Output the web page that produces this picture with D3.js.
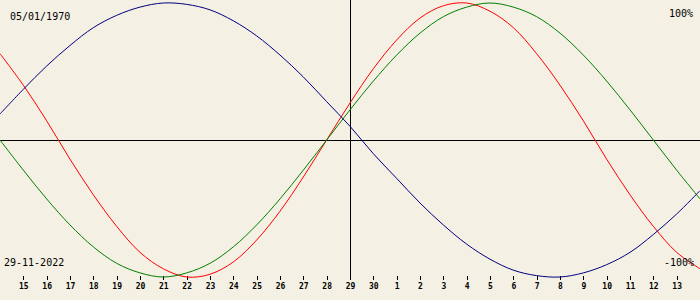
<!DOCTYPE html>
<html>
<head>
<meta charset="utf-8">
<script src="https://cdn.jsdelivr.net/npm/d3@7"></script>
<style>
  body { margin: 0; background: #f4f0e4; }
  svg { display: block; }
  text { font-family: "DejaVu Sans Mono", monospace; fill: #000; }
</style>
</head>
<body>
<svg id="chart" width="700" height="300"></svg>
<script>
// day labels shown on the axis (15 Nov .. 13 Dec)
const dayLabels = [15, 16, 17, 18, 19, 20, 21, 22, 23, 24, 25, 26, 27, 28, 29, 30,
  1, 2, 3, 4, 5, 6, 7, 8, 9, 10, 11, 12, 13];
// curve values, one per day from 14 Nov (index -1) to 14 Dec (index 29)
const physical = [0.63, 0.40, 0.14, -0.14, -0.40, -0.63, -0.82, -0.94, -1.00, -0.98,
  -0.89, -0.73, -0.52, -0.27, 0.00, 0.27, 0.52, 0.73, 0.89, 0.98, 1.00, 0.94, 0.82,
  0.63, 0.40, 0.14, -0.14, -0.40, -0.63, -0.82, -0.94];
const emotional = [0.00, -0.22, -0.43, -0.62, -0.78, -0.90, -0.97, -1.00, -0.97, -0.90,
  -0.78, -0.62, -0.43, -0.22, 0.00, 0.22, 0.43, 0.62, 0.78, 0.90, 0.97, 1.00, 0.97,
  0.90, 0.78, 0.62, 0.43, 0.22, 0.00, -0.22, -0.43];
const intellectual = [0.19, 0.37, 0.54, 0.69, 0.82, 0.91, 0.97, 1.00, 0.99, 0.95,
  0.87, 0.76, 0.62, 0.46, 0.28, 0.10, -0.10, -0.28, -0.46, -0.62, -0.76, -0.87, -0.95,
  -0.99, -1.00, -0.97, -0.91, -0.82, -0.69, -0.54, -0.37];

const svg = d3.select("#chart");
const width = +svg.attr("width");

const x = d3.scaleLinear().domain([-1, 29]).range([0, width]);
const y = d3.scaleLinear().domain([-1, 1]).range([277, 3]);
const todayIdx = dayLabels.indexOf(29);

//zero line and today line
svg.append("line")
  .attr("x1", 0).attr("x2", width)
  .attr("y1", y(0)).attr("y2", y(0))
  .attr("stroke", "#000").attr("shape-rendering", "crispEdges");
svg.append("line")
  .attr("x1", Math.round(x(todayIdx)) + 0.5).attr("x2", Math.round(x(todayIdx)) + 0.5)
  .attr("y1", 0).attr("y2", 280)
  .attr("stroke", "#000").attr("shape-rendering", "crispEdges");

//day axis
const axis = d3.axisBottom(x)
  .tickValues(d3.range(dayLabels.length))
  .tickFormat(i => dayLabels[i])
  .tickSize(4)
  .tickPadding(3);
const ax = svg.append("g")
  .attr("transform", "translate(0,276)")
  .call(axis);
ax.select(".domain").remove();
ax.selectAll("line").attr("stroke", "#000").attr("shape-rendering", "crispEdges");
ax.selectAll("text")
  .attr("font-family", "DejaVu Sans Mono")
  .attr("font-size", "8px")
  .attr("font-weight", "bold")
  .attr("fill", "#000");

//the three curves
const line = d3.line()
  .x((d, i) => x(i - 1))
  .y(d => y(d))
  .curve(d3.curveCatmullRom);
[[physical, "#ff0000"], [emotional, "#008000"], [intellectual, "#000080"]].forEach(([vals, col]) => {
  svg.append("path")
    .attr("d", line(vals))
    .attr("fill", "none")
    .attr("stroke", col)
    .attr("stroke-width", 1);
});

//corner labels
svg.append("text").attr("x", 10).attr("y", 20).attr("font-size", "10px").text("05/01/1970");
svg.append("text").attr("x", 693).attr("y", 17).attr("text-anchor", "end").attr("font-size", "10px").text("100%");
svg.append("text").attr("x", 4).attr("y", 266).attr("font-size", "10px").text("29-11-2022");
svg.append("text").attr("x", 694).attr("y", 266).attr("text-anchor", "end").attr("font-size", "10px").text("-100%");
</script>
</body>
</html>
